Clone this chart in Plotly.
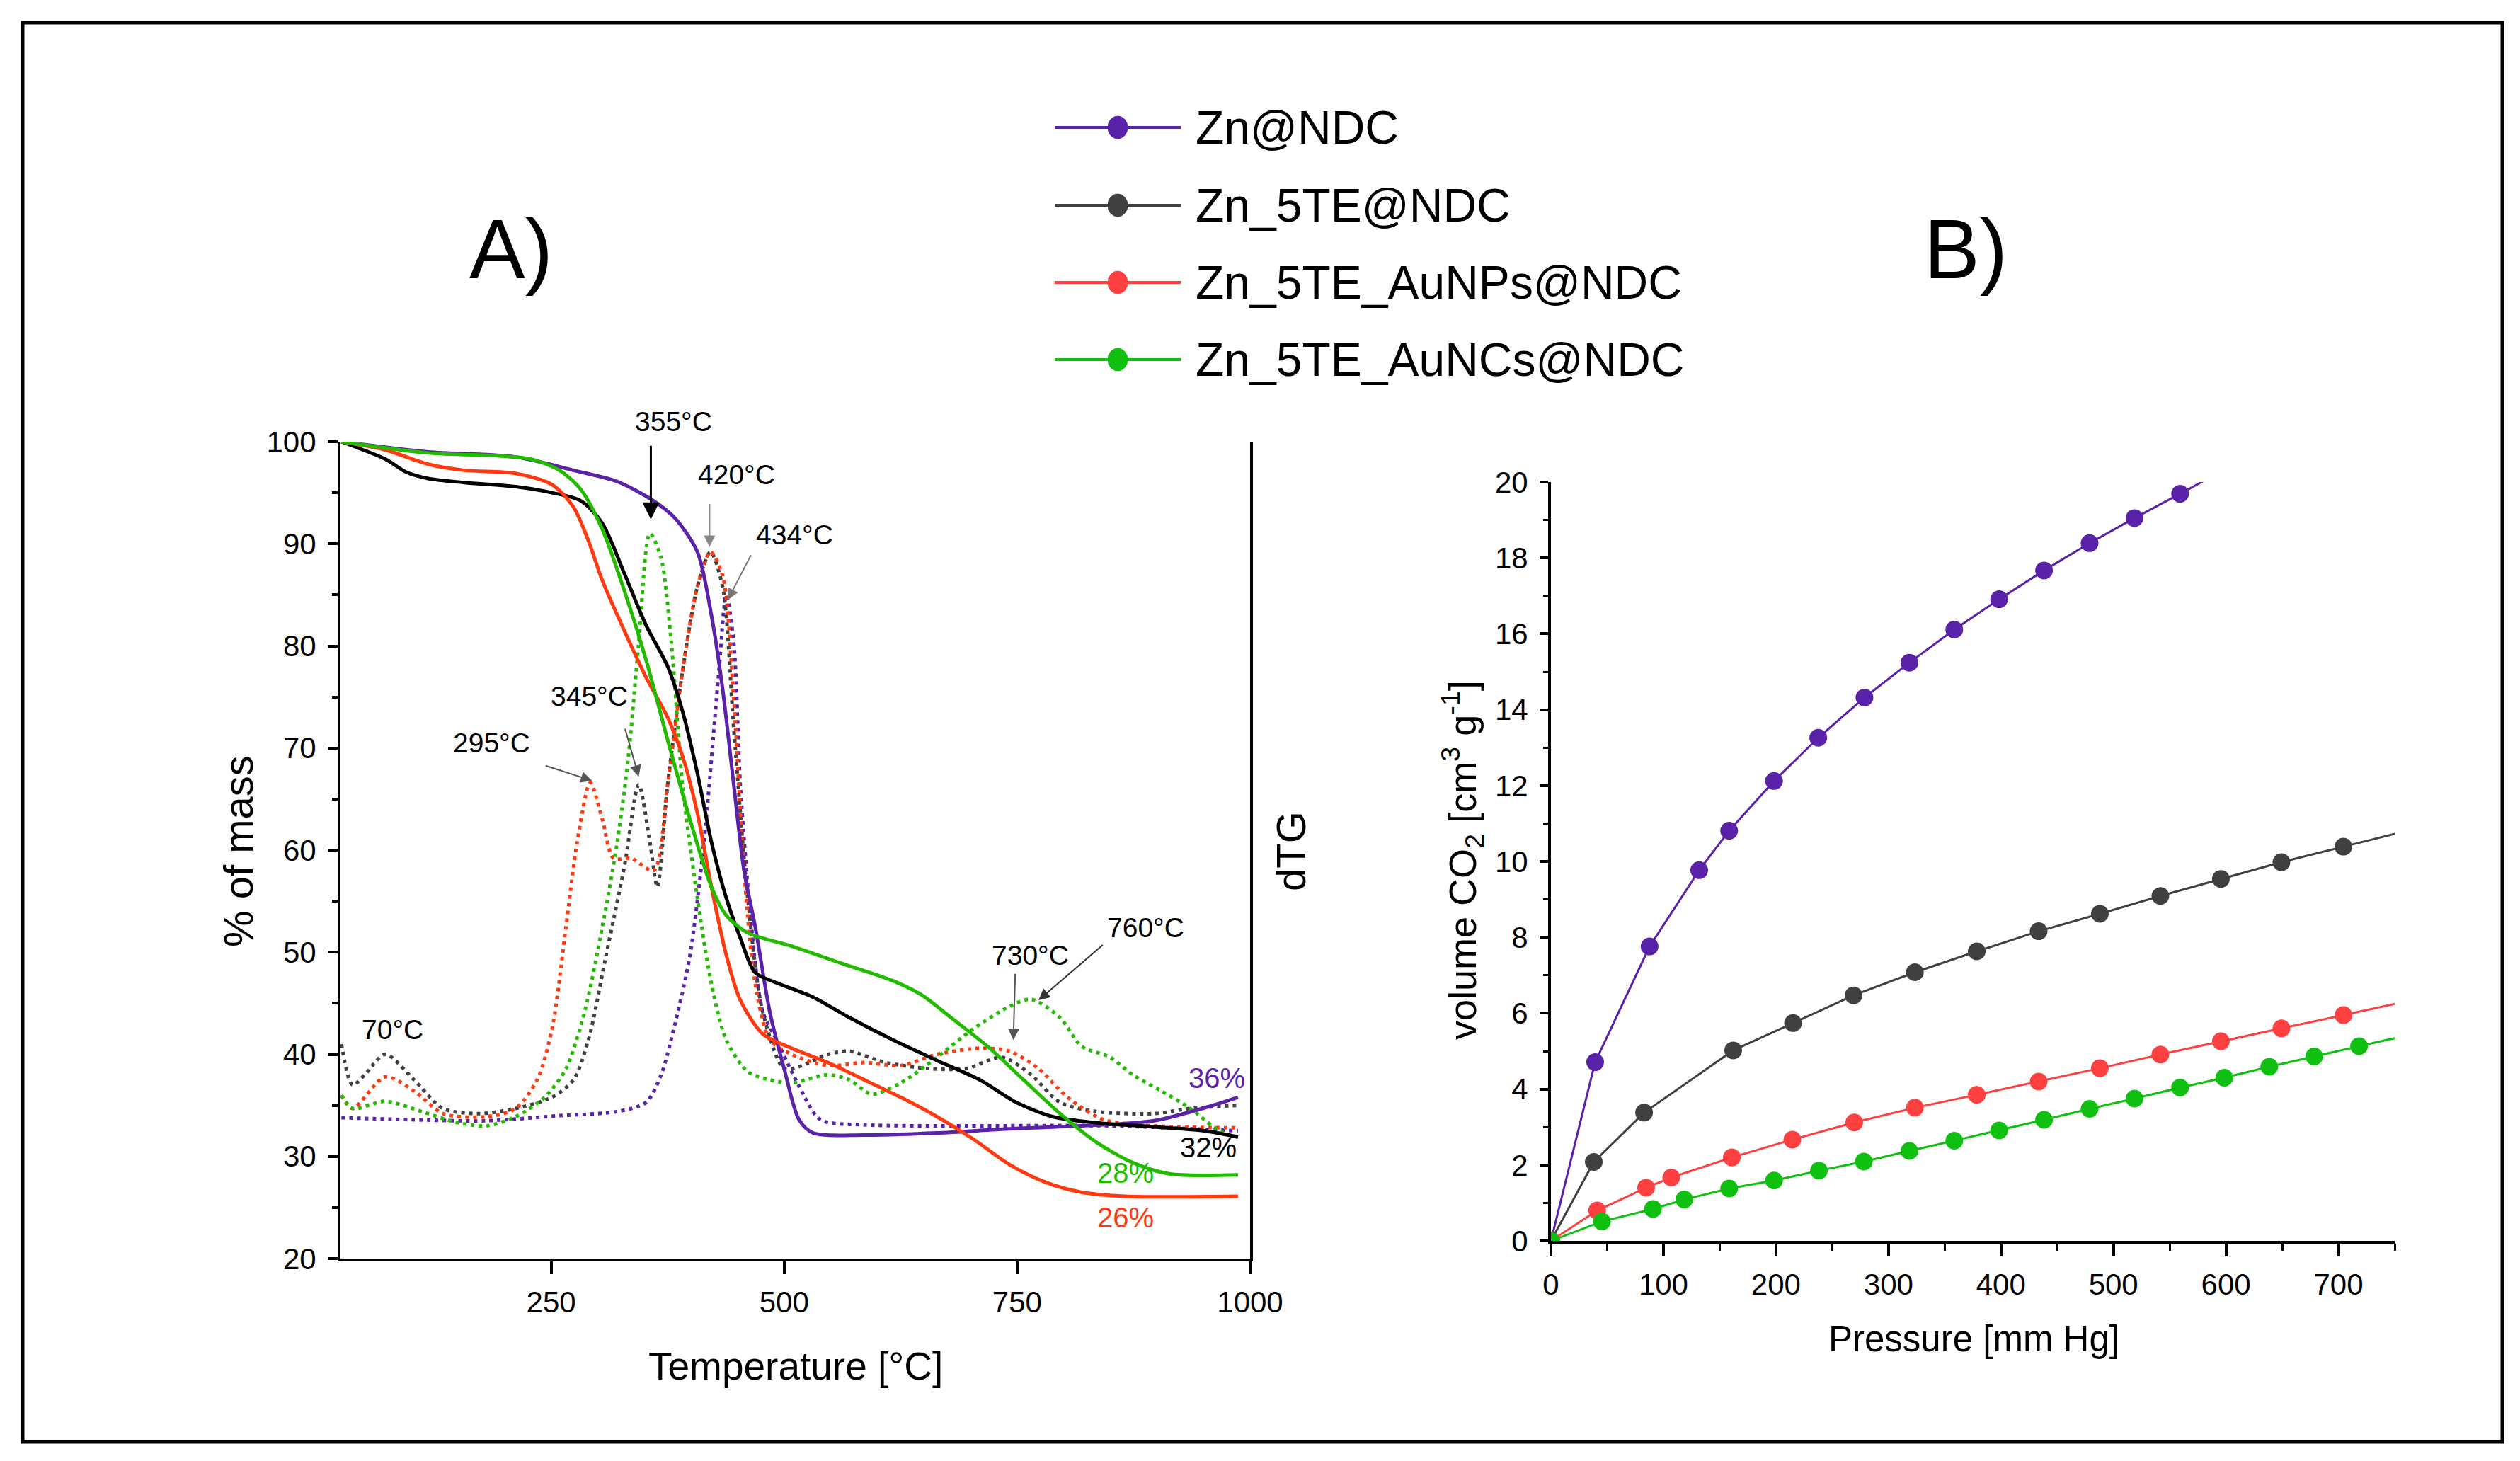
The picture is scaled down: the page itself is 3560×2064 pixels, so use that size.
import plotly.graph_objects as go

W, H = 3560, 2064
OFF = 8  # page body margin compensation
FONT = "Liberation Sans, Arial, sans-serif"

PURPLE = "#5a22a8"
GREY = "#404040"
BLACK = "#000000"
RED = "#ff3a10"
GREEN = "#22bb00"
RED_B = "#ff4040"
GREEN_B = "#10c010"

names = ["Zn@NDC", "Zn_5TE@NDC", "Zn_5TE_AuNPs@NDC", "Zn_5TE_AuNCs@NDC"]

# ---------------- Panel A: TG (solid) ----------------
tg_zn_T = [25, 118, 212, 274, 321, 360, 383, 407, 422, 434, 446, 457, 469, 485, 500, 516, 531, 586, 664, 740, 819, 897, 960, 987]
tg_zn_y = [100, 99.0, 98.5, 97.2, 96.1, 94.2, 92.5, 89.2, 83, 75.8, 66.4, 58, 52.5, 44, 38.6, 33.6, 32.3, 32.1, 32.3, 32.7, 33.0, 33.5, 35.0, 35.8]

tg_te_T = [25, 72, 95, 118, 157, 212, 251, 282, 305, 329, 352, 375, 391, 407, 422, 438, 453, 469, 492, 531, 570, 617, 664, 710, 749, 788, 835, 897, 952, 987]
tg_te_y = [100, 98.3, 97, 96.4, 96, 95.6, 95, 94.2, 92, 87, 82, 78, 73.6, 67.5, 60.8, 55.3, 51.4, 48, 47, 45.6, 43.6, 41.4, 39.4, 37.5, 35.3, 33.9, 33.3, 32.9, 32.5, 31.9]

tg_np_T = [25, 72, 118, 157, 212, 251, 274, 290, 305, 329, 352, 375, 391, 407, 422, 438, 453, 477, 508, 547, 586, 625, 664, 703, 742, 780, 819, 866, 987]
tg_np_y = [100, 99.2, 97.8, 97.2, 96.9, 95.8, 93.6, 90.3, 86.4, 81.4, 76.9, 73, 69.2, 63.6, 56.4, 49.7, 45.3, 42, 40.6, 39.2, 37.5, 35.8, 33.9, 31.7, 29.2, 27.5, 26.5, 26.1, 26.1]

tg_nc_T = [25, 118, 196, 228, 259, 282, 305, 329, 352, 375, 399, 422, 438, 461, 508, 562, 617, 648, 679, 718, 757, 796, 835, 874, 913, 987]
tg_nc_y = [100, 98.9, 98.6, 98.3, 97.2, 95.3, 91.4, 85.3, 78.6, 70.8, 63, 56.4, 53.6, 51.9, 50.6, 48.9, 47.2, 45.8, 43.6, 40.8, 37.5, 34.2, 31.4, 29.4, 28.3, 28.2]

# ---------------- Panel A: dTG (dotted) ----------------
dtg_zn_T = [25, 100, 180, 260, 321, 352, 368, 383, 399, 414, 430, 438, 446, 453, 465, 477, 492, 516, 539, 586, 700, 850, 987]
dtg_zn_y = [33.8, 33.6, 33.5, 34.0, 34.4, 35.3, 38, 43, 49.7, 60.8, 77.5, 85, 80.3, 66.4, 52.5, 44.2, 41.4, 36.9, 33.6, 33.1, 33.0, 33.0, 32.5]

dtg_te_T = [25, 37, 50, 72, 103, 134, 173, 212, 251, 274, 290, 309, 329, 344, 356, 364, 375, 391, 407, 421, 434, 446, 461, 477, 500, 516, 547, 570, 609, 656, 695, 734, 765, 796, 835, 897, 936, 987]
dtg_te_y = [41, 37, 38, 40, 37.5, 34.7, 34.2, 34.7, 35.8, 37.5, 41.4, 49.7, 58.6, 66.4, 60.8, 56.4, 66.4, 77.5, 85.8, 89.2, 85.8, 71.9, 55.3, 44.2, 38.6, 38.8, 40.0, 40.3, 39.2, 38.6, 38.6, 39.7, 38, 35.3, 34.4, 34.2, 34.7, 35]

dtg_np_T = [25, 37, 72, 103, 134, 181, 212, 235, 251, 266, 278, 292, 305, 317, 336, 360, 375, 391, 407, 421, 434, 446, 457, 469, 485, 508, 547, 586, 625, 664, 710, 742, 773, 804, 843, 897, 987]
dtg_np_y = [36, 34.7, 37.8, 36.4, 34.2, 33.9, 34.7, 37.5, 42.5, 52.5, 60.8, 66.6, 63, 59.2, 59.2, 58, 66.4, 77.5, 85.8, 89.2, 86.9, 74.7, 58, 46.9, 41.4, 40, 38.9, 39.2, 38.9, 40, 40.6, 40.3, 38.6, 35.8, 33.6, 33, 32.8]

dtg_nc_T = [25, 37, 72, 111, 150, 181, 212, 243, 266, 286, 305, 321, 333, 344, 356, 368, 379, 391, 407, 422, 438, 461, 485, 508, 547, 570, 594, 625, 664, 703, 742, 765, 796, 819, 850, 874, 905, 936, 967, 987]
dtg_nc_y = [36, 34.7, 35.4, 34.4, 33.3, 33, 33.9, 35.8, 38.6, 44.2, 52.5, 60.8, 69.2, 80.3, 91.0, 88.6, 80.3, 66.4, 55.3, 46.9, 41.4, 38.3, 37.5, 37.2, 38, 37.5, 36.1, 37.2, 39.7, 42.5, 44.7, 45.4, 43.6, 40.8, 39.7, 38, 36.4, 34.7, 32.5, 31.9]

# ---------------- Panel B: CO2 isotherms ----------------
p_zn = [0, 39.3, 87.7, 131.8, 158.4, 198.3, 237.6, 278.7, 318.6, 358.5, 398.4, 438.3, 478.8, 518.7, 559.2, 600]
v_zn = [0, 4.71, 7.76, 9.77, 10.81, 12.12, 13.26, 14.32, 15.24, 16.11, 16.91, 17.67, 18.39, 19.05, 19.69, 20.35]

p_te = [0, 38.1, 82.8, 162.0, 215.2, 269.0, 323.5, 378.5, 433.5, 487.9, 541.7, 595.5, 649.3, 704.4, 760]
v_te = [0, 2.08, 3.38, 5.02, 5.74, 6.47, 7.08, 7.63, 8.16, 8.62, 9.09, 9.54, 9.98, 10.39, 10.8]

p_np = [0, 41.1, 84.6, 107.0, 160.8, 214.6, 269.6, 323.5, 378.5, 433.5, 487.9, 541.7, 595.5, 649.3, 704.4, 760]
v_np = [0, 0.80, 1.40, 1.67, 2.20, 2.67, 3.12, 3.51, 3.85, 4.20, 4.55, 4.91, 5.26, 5.60, 5.95, 6.31]

p_nc = [0, 45.3, 90.7, 118.5, 158.4, 198.3, 238.2, 278.1, 318.6, 358.5, 398.4, 438.3, 478.8, 518.7, 559.2, 598.5, 638.5, 678.4, 718.3, 760]
v_nc = [0, 0.51, 0.84, 1.09, 1.38, 1.59, 1.85, 2.09, 2.37, 2.64, 2.91, 3.19, 3.48, 3.75, 4.04, 4.30, 4.59, 4.86, 5.13, 5.41]

fig = go.Figure()

DOT = "5px,6px"
LW = 5
tg_sets = [(tg_zn_T, tg_zn_y, PURPLE), (tg_te_T, tg_te_y, BLACK), (tg_np_T, tg_np_y, RED), (tg_nc_T, tg_nc_y, GREEN)]
dtg_sets = [(dtg_zn_T, dtg_zn_y, PURPLE), (dtg_te_T, dtg_te_y, GREY), (dtg_np_T, dtg_np_y, RED), (dtg_nc_T, dtg_nc_y, GREEN)]

for T, y, c in dtg_sets:
    fig.add_trace(go.Scatter(x=T, y=y, mode="lines", xaxis="x", yaxis="y",
                             line=dict(color=c, width=LW, dash=DOT, shape="spline", smoothing=0.8),
                             showlegend=False, hoverinfo="skip"))
for T, y, c in tg_sets:
    fig.add_trace(go.Scatter(x=T, y=y, mode="lines", xaxis="x", yaxis="y",
                             line=dict(color=c, width=LW, shape="spline", smoothing=0.8),
                             showlegend=False, hoverinfo="skip"))

b_sets = [(p_zn, v_zn, PURPLE), (p_te, v_te, GREY), (p_np, v_np, RED_B), (p_nc, v_nc, GREEN_B)]
for (P, V, c), nm in zip(b_sets, names):
    fig.add_trace(go.Scatter(x=P, y=V, mode="lines+markers", xaxis="x2", yaxis="y2", name=nm,
                             line=dict(color=c, width=3),
                             marker=dict(color=c, size=25, line=dict(width=0)),
                             showlegend=False, hoverinfo="skip"))


def px2x(px):
    return (px - OFF) / W


def px2y(py):
    return 1 - (py - OFF) / H


# panel A geometry (pixels) for labels placed above the plot top
A_TOP, A_BOT = 624, 1778
A_YMIN, A_YMAX = 20, 100


def ay_paper(v):
    return px2y(A_BOT - (v - A_YMIN) / (A_YMAX - A_YMIN) * (A_BOT - A_TOP))


tickfont = dict(family=FONT, size=42, color="black")
axis_common = dict(showgrid=False, zeroline=False, showline=True, linecolor="black", linewidth=4,
                   ticks="outside", tickcolor="black", tickwidth=4, tickfont=tickfont, automargin=False)

fig.update_layout(
    width=W, height=H,
    margin=dict(l=0, r=0, t=0, b=0, pad=0, autoexpand=False),
    paper_bgcolor="white", plot_bgcolor="white",
    xaxis=dict(domain=[px2x(481), px2x(1766)], range=[24, 1000], tickvals=[250, 500, 750, 1000],
               ticklen=18, anchor="y", ticklabelstandoff=4, **axis_common),
    yaxis=dict(domain=[px2y(A_BOT), px2y(A_TOP)], range=[A_YMIN, A_YMAX], dtick=10, ticklen=14, anchor="x",
               mirror=True, ticklabelstandoff=8,
               minor=dict(dtick=5, ticks="outside", ticklen=8, tickwidth=4, tickcolor="black"),
               **axis_common),
    xaxis2=dict(domain=[px2x(2191), px2x(3383)], range=[0, 750], dtick=100, ticklen=18, anchor="y2",
                ticklabelstandoff=4,
                minor=dict(dtick=50, ticks="outside", ticklen=10, tickwidth=3, tickcolor="black"),
                **axis_common),
    yaxis2=dict(domain=[px2y(1753), px2y(681)], range=[0, 20], dtick=2, ticklen=12, anchor="x2",
                ticklabelstandoff=8,
                minor=dict(dtick=1, ticks="outside", ticklen=7, tickwidth=3, tickcolor="black"),
                **axis_common),
)

ann = []


def ptext(text, x, y, size, angle=0, family=FONT, color="black"):
    return dict(text=text, x=px2x(x), y=px2y(y), xref="paper", yref="paper", showarrow=False,
                xanchor="center", yanchor="middle", textangle=angle,
                font=dict(family=family, size=size, color=color))


# axis titles and panel labels
ann.append(ptext("% of mass", 336, 1203, 58, -90))
ann.append(ptext("Temperature [°C]", 1124, 1930, 55))
ann.append(ptext("dTG", 1823, 1203, 58, -90))
ann.append(ptext("volume CO<sub>2</sub> [cm<sup>3</sup> g<sup>-1</sup>]", 2066, 1215, 54, -90))
ann.append(ptext("Pressure [mm Hg]", 2788, 1891, 51))
ann.append(ptext("A)", 722, 352, 118))
ann.append(ptext("B)", 2777, 352, 118))

# Panel A labels
afont = dict(family=FONT, size=39, color="black")
labels = [("355°C", 381, 102.0), ("420°C", 449, 96.8), ("434°C", 511, 90.85), ("345°C", 291, 75.1),
          ("295°C", 186, 70.5), ("70°C", 80, 42.4), ("730°C", 764, 49.7), ("760°C", 888, 52.4)]
for t, x, y in labels:
    ann.append(dict(text=t, x=x, y=ay_paper(y), xref="x", yref="paper", showarrow=False,
                    xanchor="center", yanchor="middle", font=afont))
pct = [("36%", 964, 37.7, PURPLE), ("32%", 955, 30.9, BLACK), ("28%", 866, 28.4, GREEN), ("26%", 866, 24.0, RED)]
for t, x, y, c in pct:
    ann.append(dict(text=t, x=x, y=y, xref="x", yref="y", showarrow=False,
                    xanchor="center", yanchor="middle", font=dict(family=FONT, size=40, color=c)))

arrows = [((357, 99.7), (357, 92.4), "black", 3), ((420, 94.0), (420, 89.7), "#888888", 2),
          ((465, 89.0), (439.5, 84.5), "#777777", 2), ((329, 72.0), (344, 67.2), "#555555", 2),
          ((243, 68.3), (294, 66.8), "#555555", 2), ((748, 48.0), (746, 41.4), "#555555", 2),
          ((843, 50.8), (773, 45.3), "#333333", 2)]
for (tx, ty), (hx, hy), c, w in arrows:
    ann.append(dict(text="", x=hx, y=hy, ax=tx, ay=ty, xref="x", yref="y", axref="x", ayref="y",
                    showarrow=True, arrowhead=2, arrowsize=1.6, arrowwidth=w, arrowcolor=c))

# Legend (drawn manually)
leg_y = [180, 290, 399, 508]
leg_c = [PURPLE, GREY, RED_B, GREEN_B]
shapes = []
for yy, c, nm in zip(leg_y, leg_c, names):
    shapes.append(dict(type="line", xref="paper", yref="paper", x0=px2x(1490), x1=px2x(1668),
                       y0=px2y(yy), y1=px2y(yy), line=dict(color=c, width=4)))
    shapes.append(dict(type="circle", xref="paper", yref="paper", x0=px2x(1579 - 14), x1=px2x(1579 + 14),
                       y0=px2y(yy + 16), y1=px2y(yy - 16), fillcolor=c, line=dict(color=c, width=1)))
    ann.append(dict(text=nm, x=px2x(1687), y=px2y(yy), xref="paper", yref="paper", showarrow=False,
                    xanchor="left", yanchor="middle", font=dict(family=FONT, size=66, color="black")))

# Outer border
shapes.append(dict(type="rect", xref="paper", yref="paper", x0=px2x(32), x1=px2x(3535),
                   y0=px2y(2037), y1=px2y(32), line=dict(color="black", width=5)))

fig.update_layout(annotations=ann, shapes=shapes)
fig.write_html("out.html")
